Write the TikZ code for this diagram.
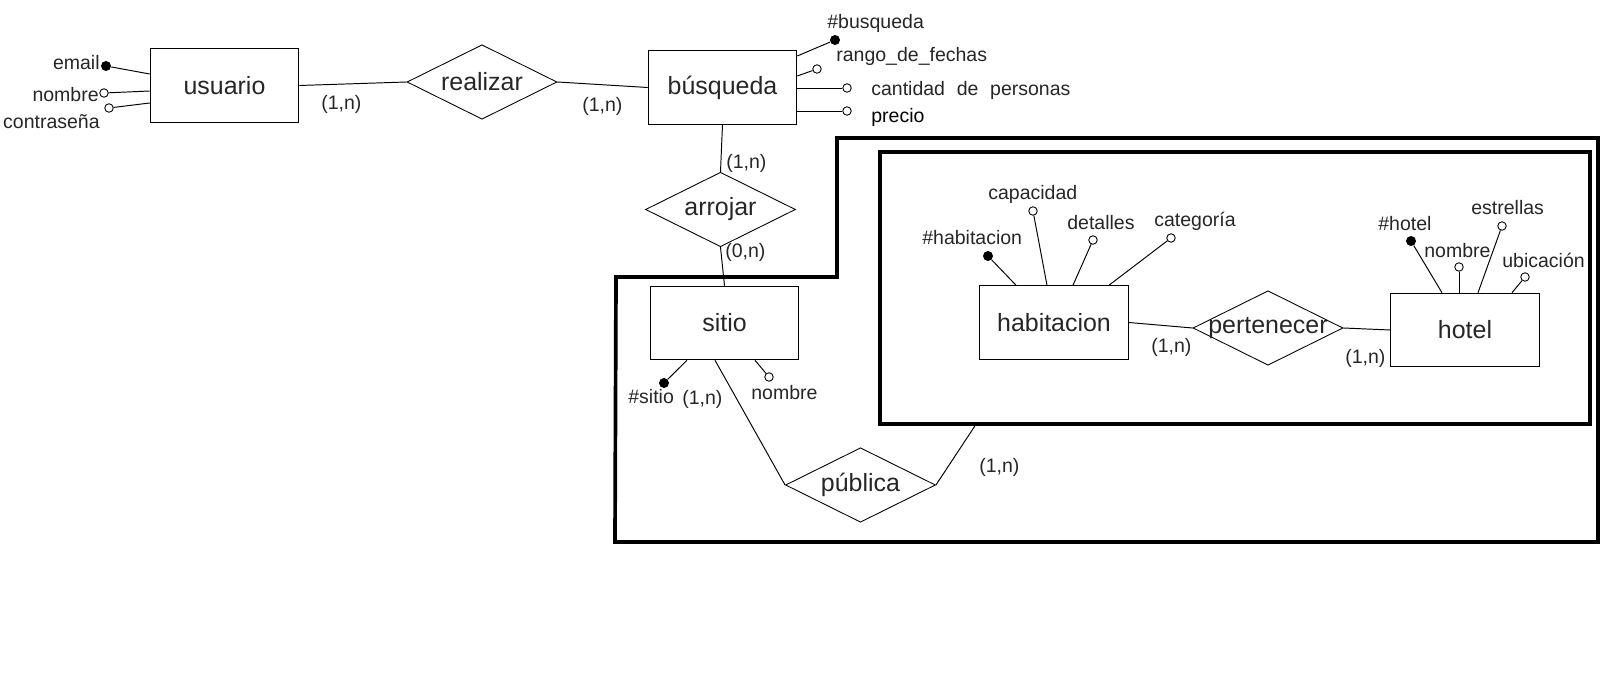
\documentclass[tikz,border=0pt]{standalone}
\usepackage{fontspec}
\setmainfont{Liberation Sans}
\usetikzlibrary{shapes.geometric}

\begin{document}
\begin{tikzpicture}[
    x=0.02cm, y=-0.02cm,
    every node/.style={text=black!85},
    bigtxt/.style={font=\fontsize{14.2}{17}\selectfont},
    attxt/.style={font=\fontsize{11.1}{13}\selectfont, inner sep=0pt, anchor=west},
    entity/.style={rectangle, draw, line width=0.6pt, minimum width=2.97cm, minimum height=1.47cm, bigtxt},
    rel/.style={diamond, draw, line width=0.5pt, minimum width=3cm, minimum height=1.49cm, inner sep=0pt,
      label={[bigtxt]center:#1}},
    keyatt/.style={circle, fill=black, minimum size=0.2cm, inner sep=0pt},
    att/.style={circle, draw, fill=white, line width=0.5pt, minimum size=0.17cm, inner sep=0pt},
    conn/.style={draw, line width=0.55pt},
    frame/.style={draw, line width=2.1pt}
  ]
  \useasboundingbox (0,0) rectangle (1607,682);
  % entidades y relaciones
  \node[entity] (usuario) at (224.5,85.5) {usuario};
  \node[entity] (busqueda) at (722.5,87.5) {búsqueda};
  \node[entity] (sitio) at (724.5,323) {sitio};
  \node[entity] (habitacion) at (1054,322.5) {habitacion};
  \node[entity] (hotel) at (1465,330) {hotel};
  \node[rel=realizar] (realizar) at (482,82) {};
  \node[rel=arrojar] (arrojar) at (720.5,209.5) {};
  \node[rel=pública] (publica) at (860.5,485) {};
  \node[rel=pertenecer] (pertenecer) at (1268,328) {};
  % marcos
  \node[frame, minimum width=14.2cm, minimum height=5.44cm] (marco) at (1235,288) {};
  \draw[frame] (616,277) -- (837,277) -- (837,138) -- (1598,138) -- (1598,542) -- (615,542) -- cycle;
  % atributos
  \node[keyatt] (email) at (106,66) {};
  \node[att] (nombre1) at (104,93) {};
  \node[att] (contrasena) at (109,108) {};
  \node[attxt, anchor=east] (t_email) at (100,63) {email};
  \node[attxt, anchor=east] (t_nombre1) at (99,95) {nombre};
  \node[attxt, anchor=east] (t_contrasena) at (100,122) {contraseña};
  \node[keyatt] (nbusq) at (835,40) {};
  \node[att] (rango) at (817,69) {};
  \node[att] (cantidad) at (847,88) {};
  \node[att] (precio) at (847,111) {};
  \node[attxt] (t_nbusq) at (827,23) {\#busqueda};
  \node[attxt] (t_rango) at (836,56) {rango\_de\_fechas};
  \node[attxt] (t_cantidad) at (871,90) {cantidad\hspace{0.6em}de\hspace{0.6em}personas};
  \node[attxt, text=black] (t_precio) at (871,117) {precio};
  \node[keyatt] (nsitio) at (664,383) {};
  \node[att] (nombre2) at (769,377) {};
  \node[attxt] (t_nsitio) at (628,397) {\#sitio};
  \node[attxt] (t_nombre2) at (751,393) {nombre};
  \node[keyatt] (nhab) at (988,256) {};
  \node[att] (capacidad) at (1033,211) {};
  \node[att] (detalles) at (1093,240) {};
  \node[att] (categoria) at (1171,238) {};
  \node[attxt] (t_nhab) at (922,238) {\#habitacion};
  \node[attxt] (t_capacidad) at (988,194) {capacidad};
  \node[attxt] (t_detalles) at (1067,223) {detalles};
  \node[attxt] (t_categoria) at (1154,221) {categoría};
  \node[keyatt] (nhotel) at (1411,241) {};
  \node[att] (nombre3) at (1459,267) {};
  \node[att] (estrellas) at (1502,226) {};
  \node[att] (ubicacion) at (1525,277) {};
  \node[attxt] (t_nhotel) at (1378,224) {\#hotel};
  \node[attxt] (t_nombre3) at (1424,251) {nombre};
  \node[attxt] (t_estrellas) at (1471,208) {estrellas};
  \node[attxt] (t_ubicacion) at (1502,260) {ubicación};
  % cardinalidades
  \node[attxt] (c1) at (321,104) {(1,n)};
  \node[attxt] (c2) at (582,106) {(1,n)};
  \node[attxt] (c3) at (726,163) {(1,n)};
  \node[attxt] (c4) at (725,252) {(0,n)};
  \node[attxt] (c5) at (682,399) {(1,n)};
  \node[attxt] (c6) at (979,467) {(1,n)};
  \node[attxt] (c7) at (1151,347) {(1,n)};
  \node[attxt] (c8) at (1345,358) {(1,n)};
  % conexiones
  \draw[conn] (usuario.east) -- (realizar.west);
  \draw[conn] (realizar.east) -- (busqueda.west);
  \draw[conn] (busqueda.south) -- (arrojar.north);
  \draw[conn] (arrojar.south) -- (sitio.north);
  \draw[conn] (sitio.south -| 715,0) -- (publica.west);
  \draw[conn] (publica.east) -- (marco.south -| 975,0);
  \draw[conn] (habitacion.east) -- (pertenecer.west);
  \draw[conn] (pertenecer.east) -- (hotel.west);
  \foreach \a/\y in {email/74, nombre1/91, contrasena/103}
    \draw[conn] (\a) -- (usuario.west |- 0,\y);
  \foreach \a/\y in {nbusq/56, rango/76, cantidad/88, precio/111}
    \draw[conn] (\a) -- (busqueda.east |- 0,\y);
  \foreach \a/\x in {nsitio/687, nombre2/755}
    \draw[conn] (\a) -- (sitio.south -| \x,0);
  \foreach \a/\x in {nhab/1016, capacidad/1047, detalles/1073, categoria/1109}
    \draw[conn] (\a) -- (habitacion.north -| \x,0);
  \foreach \a/\x in {nhotel/1442, nombre3/1459, estrellas/1478, ubicacion/1512}
    \draw[conn] (\a) -- (hotel.north -| \x,0);
\end{tikzpicture}
\end{document}
